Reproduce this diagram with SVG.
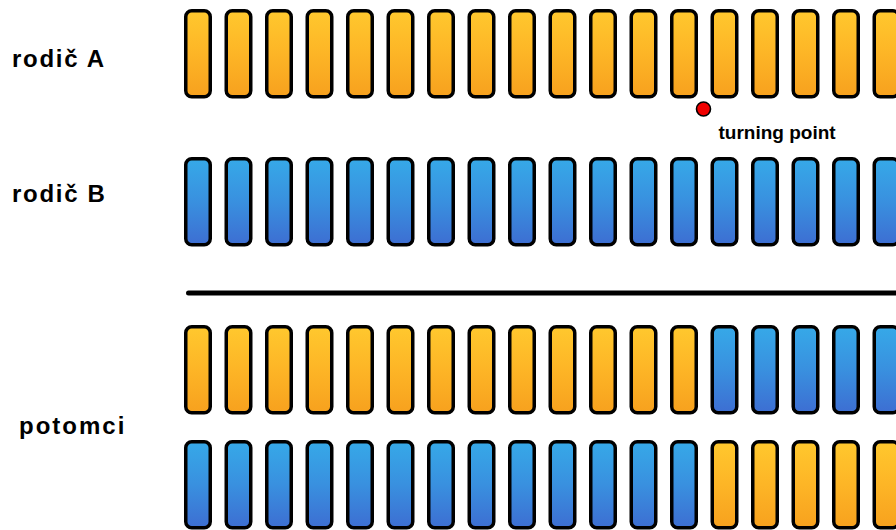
<svg xmlns="http://www.w3.org/2000/svg" xmlns:xlink="http://www.w3.org/1999/xlink" width="896" height="530" viewBox="0 0 896 530">
<defs>
<linearGradient id="gO" x1="0" y1="0" x2="0" y2="1">
<stop offset="0" stop-color="#FFC82E"/>
<stop offset="0.5" stop-color="#FDB526"/>
<stop offset="1" stop-color="#F7A11E"/>
</linearGradient>
<linearGradient id="gB" x1="0" y1="0" x2="0" y2="1">
<stop offset="0" stop-color="#36A9E8"/>
<stop offset="0.5" stop-color="#3990DF"/>
<stop offset="1" stop-color="#3D6ED2"/>
</linearGradient>
<rect id="bar" x="0" y="0" width="24.5" height="86" rx="6" ry="6"/>
</defs>
<style>
.o{fill:url(#gO);stroke:#000;stroke-width:3.5}
.b{fill:url(#gB);stroke:#000;stroke-width:3.5}
.lbl{font-family:"Liberation Sans",Arial,sans-serif;font-weight:bold;fill:#000}
</style>
<rect width="896" height="530" fill="#fff"/>

<g id="labels">
<text class="lbl" x="12" y="67.3" font-size="24" letter-spacing="1.7">rodič A</text>
<text class="lbl" x="12" y="202.3" font-size="24" letter-spacing="1.7">rodič B</text>
<text class="lbl" x="19" y="433.5" font-size="24" letter-spacing="2">potomci</text>
<text class="lbl" x="718.5" y="138.5" font-size="19">turning point</text>
</g>

<g id="connectors">
<line x1="188.5" y1="293" x2="900" y2="293" stroke="#000" stroke-width="5" stroke-linecap="round"/>
</g>

<g id="parentA">
<use xlink:href="#bar" class="o" x="185.75" y="10.75"/>
<use xlink:href="#bar" class="o" x="226.25" y="10.75"/>
<use xlink:href="#bar" class="o" x="266.75" y="10.75"/>
<use xlink:href="#bar" class="o" x="307.25" y="10.75"/>
<use xlink:href="#bar" class="o" x="347.75" y="10.75"/>
<use xlink:href="#bar" class="o" x="388.25" y="10.75"/>
<use xlink:href="#bar" class="o" x="428.75" y="10.75"/>
<use xlink:href="#bar" class="o" x="469.25" y="10.75"/>
<use xlink:href="#bar" class="o" x="509.75" y="10.75"/>
<use xlink:href="#bar" class="o" x="550.25" y="10.75"/>
<use xlink:href="#bar" class="o" x="590.75" y="10.75"/>
<use xlink:href="#bar" class="o" x="631.25" y="10.75"/>
<use xlink:href="#bar" class="o" x="671.75" y="10.75"/>
<use xlink:href="#bar" class="o" x="712.25" y="10.75"/>
<use xlink:href="#bar" class="o" x="752.75" y="10.75"/>
<use xlink:href="#bar" class="o" x="793.25" y="10.75"/>
<use xlink:href="#bar" class="o" x="833.75" y="10.75"/>
<use xlink:href="#bar" class="o" x="874.25" y="10.75"/>
</g>

<g id="parentB">
<use xlink:href="#bar" class="b" x="185.75" y="158.75"/>
<use xlink:href="#bar" class="b" x="226.25" y="158.75"/>
<use xlink:href="#bar" class="b" x="266.75" y="158.75"/>
<use xlink:href="#bar" class="b" x="307.25" y="158.75"/>
<use xlink:href="#bar" class="b" x="347.75" y="158.75"/>
<use xlink:href="#bar" class="b" x="388.25" y="158.75"/>
<use xlink:href="#bar" class="b" x="428.75" y="158.75"/>
<use xlink:href="#bar" class="b" x="469.25" y="158.75"/>
<use xlink:href="#bar" class="b" x="509.75" y="158.75"/>
<use xlink:href="#bar" class="b" x="550.25" y="158.75"/>
<use xlink:href="#bar" class="b" x="590.75" y="158.75"/>
<use xlink:href="#bar" class="b" x="631.25" y="158.75"/>
<use xlink:href="#bar" class="b" x="671.75" y="158.75"/>
<use xlink:href="#bar" class="b" x="712.25" y="158.75"/>
<use xlink:href="#bar" class="b" x="752.75" y="158.75"/>
<use xlink:href="#bar" class="b" x="793.25" y="158.75"/>
<use xlink:href="#bar" class="b" x="833.75" y="158.75"/>
<use xlink:href="#bar" class="b" x="874.25" y="158.75"/>
</g>

<g id="child1">
<use xlink:href="#bar" class="o" x="185.75" y="326.75"/>
<use xlink:href="#bar" class="o" x="226.25" y="326.75"/>
<use xlink:href="#bar" class="o" x="266.75" y="326.75"/>
<use xlink:href="#bar" class="o" x="307.25" y="326.75"/>
<use xlink:href="#bar" class="o" x="347.75" y="326.75"/>
<use xlink:href="#bar" class="o" x="388.25" y="326.75"/>
<use xlink:href="#bar" class="o" x="428.75" y="326.75"/>
<use xlink:href="#bar" class="o" x="469.25" y="326.75"/>
<use xlink:href="#bar" class="o" x="509.75" y="326.75"/>
<use xlink:href="#bar" class="o" x="550.25" y="326.75"/>
<use xlink:href="#bar" class="o" x="590.75" y="326.75"/>
<use xlink:href="#bar" class="o" x="631.25" y="326.75"/>
<use xlink:href="#bar" class="o" x="671.75" y="326.75"/>
<use xlink:href="#bar" class="b" x="712.25" y="326.75"/>
<use xlink:href="#bar" class="b" x="752.75" y="326.75"/>
<use xlink:href="#bar" class="b" x="793.25" y="326.75"/>
<use xlink:href="#bar" class="b" x="833.75" y="326.75"/>
<use xlink:href="#bar" class="b" x="874.25" y="326.75"/>
</g>

<g id="child2">
<use xlink:href="#bar" class="b" x="185.75" y="441.75"/>
<use xlink:href="#bar" class="b" x="226.25" y="441.75"/>
<use xlink:href="#bar" class="b" x="266.75" y="441.75"/>
<use xlink:href="#bar" class="b" x="307.25" y="441.75"/>
<use xlink:href="#bar" class="b" x="347.75" y="441.75"/>
<use xlink:href="#bar" class="b" x="388.25" y="441.75"/>
<use xlink:href="#bar" class="b" x="428.75" y="441.75"/>
<use xlink:href="#bar" class="b" x="469.25" y="441.75"/>
<use xlink:href="#bar" class="b" x="509.75" y="441.75"/>
<use xlink:href="#bar" class="b" x="550.25" y="441.75"/>
<use xlink:href="#bar" class="b" x="590.75" y="441.75"/>
<use xlink:href="#bar" class="b" x="631.25" y="441.75"/>
<use xlink:href="#bar" class="b" x="671.75" y="441.75"/>
<use xlink:href="#bar" class="o" x="712.25" y="441.75"/>
<use xlink:href="#bar" class="o" x="752.75" y="441.75"/>
<use xlink:href="#bar" class="o" x="793.25" y="441.75"/>
<use xlink:href="#bar" class="o" x="833.75" y="441.75"/>
<use xlink:href="#bar" class="o" x="874.25" y="441.75"/>
</g>

<g id="turningPoint">
<circle cx="703.5" cy="109" r="7" fill="#F00000" stroke="#000" stroke-width="1.6"/>
</g>
</svg>
